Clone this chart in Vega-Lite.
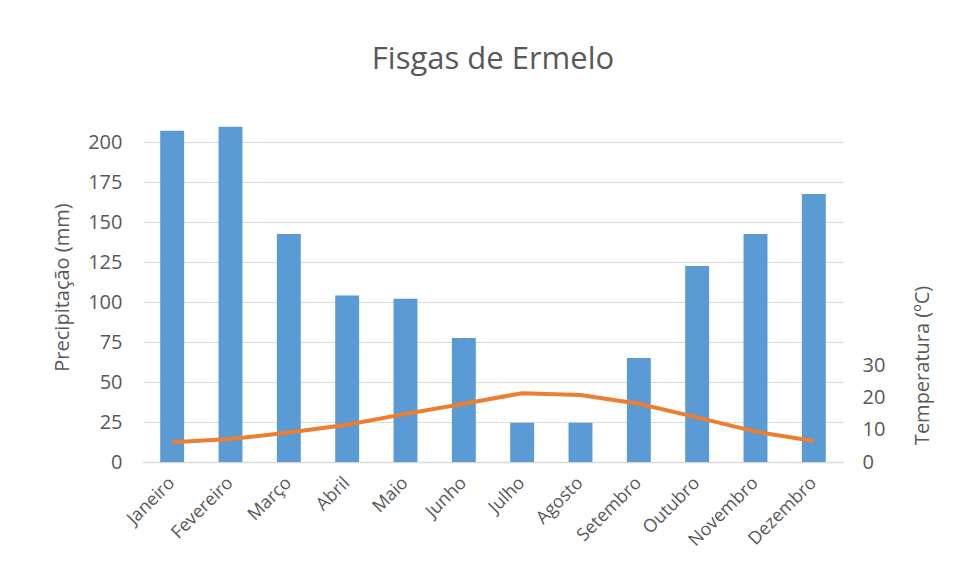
{
  "$schema": "https://vega.github.io/schema/vega-lite/v6.json",
  "width": 700,
  "height": 360,
  "autosize": {"type": "none"},
  "padding": {"left": 143, "top": 102, "right": 113, "bottom": 119},
  "background": "white",
  "config": {
    "font": "Open Sans",
    "view": {"stroke": null},
    "axis": {"labelColor": "#595959", "titleColor": "#595959", "titleFontWeight": "normal"}
  },
  "title": {
    "text": "Fisgas de Ermelo",
    "fontSize": 31,
    "font": "Open Sans",
    "fontWeight": "normal",
    "color": "#595959",
    "anchor": "middle",
    "offset": 26
  },
  "data": {
    "values": [
      {"mes": "Janeiro", "precipitacao": 207, "temperatura": 6.1},
      {"mes": "Fevereiro", "precipitacao": 209.5, "temperatura": 7.1},
      {"mes": "Março", "precipitacao": 142.5, "temperatura": 9.1},
      {"mes": "Abril", "precipitacao": 104, "temperatura": 11.5},
      {"mes": "Maio", "precipitacao": 102, "temperatura": 14.9},
      {"mes": "Junho", "precipitacao": 77.5, "temperatura": 18},
      {"mes": "Julho", "precipitacao": 24.5, "temperatura": 21.3},
      {"mes": "Agosto", "precipitacao": 24.5, "temperatura": 20.7},
      {"mes": "Setembro", "precipitacao": 65, "temperatura": 18},
      {"mes": "Outubro", "precipitacao": 122.5, "temperatura": 13.8},
      {"mes": "Novembro", "precipitacao": 142.5, "temperatura": 9.4},
      {"mes": "Dezembro", "precipitacao": 167.5, "temperatura": 6.5}
    ]
  },
  "encoding": {
    "x": {
      "field": "mes",
      "type": "nominal",
      "sort": null,
      "scale": {"paddingInner": 0.59, "paddingOuter": 0.295},
      "axis": {
        "title": null,
        "labelAngle": -45,
        "labelAlign": "right",
        "labelBaseline": "middle",
        "labelFontSize": 18,
        "labelPadding": 18,
        "ticks": false,
        "domainColor": "#d9d9d9",
        "domainWidth": 1.5
      }
    }
  },
  "layer": [
    {
      "mark": {"type": "bar", "color": "#5b9bd5"},
      "encoding": {
        "y": {
          "field": "precipitacao",
          "type": "quantitative",
          "scale": {"domain": [0, 225], "nice": false},
          "axis": {
            "title": "Precipitação (mm)",
            "titleFontSize": 20,
            "titleY": 185,
            "titleX": -81,
            "titleAngle": -90,
            "titleAlign": "center",
            "titleBaseline": "middle",
            "values": [0, 25, 50, 75, 100, 125, 150, 175, 200],
            "labelFontSize": 20,
            "labelPadding": 21,
            "ticks": false,
            "domain": false,
            "gridColor": "#d9d9d9",
            "gridWidth": 1.2
          }
        }
      }
    },
    {
      "mark": {"type": "line", "color": "#ed7d31", "strokeWidth": 4},
      "encoding": {
        "y": {
          "field": "temperatura",
          "type": "quantitative",
          "scale": {"domain": [0, 111.4], "nice": false},
          "axis": {
            "orient": "right",
            "title": "Temperatura (ºC)",
            "titleFontSize": 20,
            "titleAngle": -90,
            "titleX": 79,
            "titleY": 263,
            "titleAlign": "center",
            "titleBaseline": "middle",
            "values": [0, 10, 20, 30],
            "labelFontSize": 20,
            "labelAlign": "left",
            "labelPadding": 19,
            "ticks": false,
            "domain": false,
            "grid": false
          }
        }
      }
    }
  ],
  "resolve": {"scale": {"y": "independent"}}
}
